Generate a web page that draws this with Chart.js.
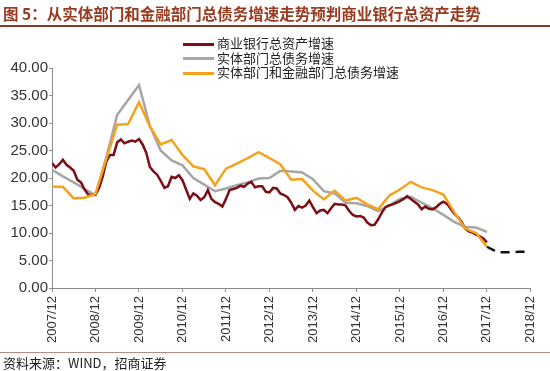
<!DOCTYPE html>
<html>
<head>
<meta charset="utf-8">
<script src="https://cdn.jsdelivr.net/npm/chart.js@4.4.1/dist/chart.umd.min.js"></script>
<style>
	html, body { margin: 0; padding: 0; background: #fff; }
	#wrap { position: relative; width: 550px; height: 371px; overflow: hidden; }
	#title { position: absolute; left: 3px; top: 2px; font: bold 15.5px "Noto Sans CJK SC", sans-serif; color: #973a1f; white-space: nowrap; }
	#topRule { position: absolute; left: 0; top: 25px; width: 550px; height: 1.5px; background: #8b3a2a; }
	#bottomRule { position: absolute; left: 0; top: 352px; width: 550px; height: 1px; background: #b98a80; }
	#source { position: absolute; left: 3px; top: 353px; font: 13px "Noto Sans CJK SC", sans-serif; color: #222; white-space: nowrap; }
	#chart { position: absolute; left: 0; top: 0; }
	#legend { position: absolute; left: 183px; top: 36px; font: 13px "Noto Sans CJK SC", sans-serif; color: #222; }
	#legend .row { height: 14.5px; line-height: 14.5px; white-space: nowrap; }
	#legend .swatch { display: inline-block; width: 31px; height: 3px; vertical-align: middle; margin-right: 3px; }
</style>
</head>
<body>
<div id="wrap">
	<canvas id="chart" width="550" height="371"></canvas>
	<div id="title">图 5：从实体部门和金融部门总债务增速走势预判商业银行总资产走势</div>
	<div id="topRule"></div>
	<div id="legend"></div>
	<div id="bottomRule"></div>
	<div id="source">资料来源：WIND，招商证券</div>
</div>
<script>
// year-end tick labels (one every 12 months, index 0 = 2007/12)
const tickLabels = ['2007/12', '2008/12', '2009/12', '2010/12', '2011/12', '2012/12',
	'2013/12', '2014/12', '2015/12', '2016/12', '2017/12', '2018/12'];

// 商业银行总资产增速, monthly from 2007/12 to 2017/12
const bankAssets = [
	22.7, 21.9, 22.5, 23.3, 22.4, 21.9, 21.3, 19.7, 19.2, 17.9, 17.0, 16.9,
	17.0, 18.2, 20.3, 23.0, 24.2, 24.2, 26.5, 27.0, 26.3, 26.6, 26.8, 26.6,
	27.1, 26.1, 24.6, 22.0, 21.2, 20.6, 19.5, 18.2, 18.5, 20.2, 20.0, 20.5,
	19.6, 17.9, 16.2, 17.2, 16.8, 16.0, 16.5, 17.8, 16.2, 15.6, 15.3, 14.8,
	16.2, 17.8, 18.0, 18.2, 18.6, 18.4, 19.0, 19.3, 18.3, 18.5, 18.5, 17.5,
	17.4, 18.2, 18.1, 17.2, 16.9, 16.5, 15.5, 14.2, 14.9, 14.6, 15.0, 15.9,
	14.7, 13.6, 14.1, 14.2, 13.6, 14.5, 15.3, 15.2, 15.2, 15.0, 14.0, 13.3,
	13.0, 13.1, 12.8, 11.9, 11.4, 11.5, 12.5, 13.7, 14.7, 15.0, 15.2, 15.5,
	15.8, 16.2, 16.7, 16.2, 15.7, 15.2, 14.3, 14.8, 14.4, 14.3, 14.7, 15.3,
	15.7, 15.3, 14.4, 13.5, 12.9, 12.0, 10.8, 10.3, 10.1, 9.7, 9.4, 9.0,
	8.3
];

// 实体部门总债务增速, quarterly from 2007/12 to 2017/12
const realDebt = [
	21.5, 20.3, 19.2, 18.0, 16.9, 23.8, 31.5, 34.2, 36.9, 29.5, 25.0, 23.2,
	22.3, 20.0, 18.8, 17.6, 18.1, 18.7, 19.2, 19.9, 20.0, 21.3, 21.2, 21.0,
	19.8, 17.6, 17.2, 15.5, 15.4, 14.9, 14.0, 15.0, 16.2, 16.6, 15.5, 14.5,
	13.3, 12.0, 11.1, 11.0, 10.2
];

// 实体部门和金融部门总债务增速, quarterly from 2007/12 to 2017/12
const totalDebt = [
	18.4, 18.4, 16.3, 16.4, 17.1, 23.5, 29.7, 29.8, 33.8, 29.4, 26.1, 26.9,
	24.2, 22.1, 21.6, 18.7, 21.7, 22.6, 23.6, 24.7, 23.6, 22.5, 19.7, 19.8,
	17.7, 16.1, 17.7, 15.9, 16.4, 15.2, 14.3, 16.8, 17.9, 19.3, 18.3, 17.8,
	17.0, 13.8, 10.8, 10.0, 7.5
];

// projection (dashed), months after 2007/12
const projMonths = [120, 123, 126, 129, 132];
const projValues = [7.5, 6.5, 6.5, 6.6, 6.6];

const toPoints = (vals, step, start = 0) => vals.map((v, i) => ({ x: start + i * step, y: v }));

const datasets = [
	{ label: '商业银行总资产增速', data: toPoints(bankAssets, 1), borderColor: '#7c0f16', order: 1 },
	{ label: '实体部门总债务增速', data: toPoints(realDebt, 3), borderColor: '#a6a6a6', order: 2 },
	{ label: '实体部门和金融部门总债务增速', data: toPoints(totalDebt, 3), borderColor: '#f5a21c', order: 0 },
	{ label: 'proj', data: projMonths.map((m, i) => ({ x: m, y: projValues[i] })), borderColor: '#111',
		borderDash: [9, 6], order: 0, hideInLegend: true }
];
datasets.forEach(d => {
	d.borderWidth = 2.5;
	d.pointRadius = 0;
	d.tension = 0;
	d.fill = false;
});

// html legend
const legendEl = document.getElementById('legend');
datasets.filter(d => !d.hideInLegend).forEach(d => {
	const row = document.createElement('div');
	row.className = 'row';
	row.innerHTML = '<span class="swatch" style="background:' + d.borderColor + '"></span>' + d.label;
	legendEl.appendChild(row);
});

const axisColor = '#8c8c8c';

new Chart(document.getElementById('chart'), {
	type: 'line',
	data: { datasets: datasets },
	options: {
		responsive: false,
		animation: false,
		layout: { padding: { top: 68, right: 9, bottom: 0, left: 0 } },
		plugins: { legend: { display: false }, tooltip: { enabled: false } },
		scales: {
			x: {
				type: 'linear',
				min: 0,
				max: 132,
				afterFit: s => { s.height = 83; },
				border: { color: axisColor, width: 1 },
				grid: { drawOnChartArea: false, tickLength: 4, color: axisColor },
				ticks: {
					stepSize: 12,
					autoSkip: false,
					minRotation: 90,
					maxRotation: 90,
					padding: 4,
					color: '#333',
					font: { family: 'Liberation Sans, Arial', size: 13 },
					callback: v => tickLabels[v / 12]
				}
			},
			y: {
				min: 0,
				max: 40,
				afterFit: s => { s.width = 52; },
				border: { color: axisColor, width: 1 },
				grid: { drawOnChartArea: false, tickLength: 3, color: axisColor },
				ticks: {
					stepSize: 5,
					padding: 1,
					color: '#333',
					font: { family: 'Liberation Sans, Arial', size: 15 },
					callback: v => v.toFixed(2)
				}
			}
		}
	}
});
</script>
</body>
</html>
